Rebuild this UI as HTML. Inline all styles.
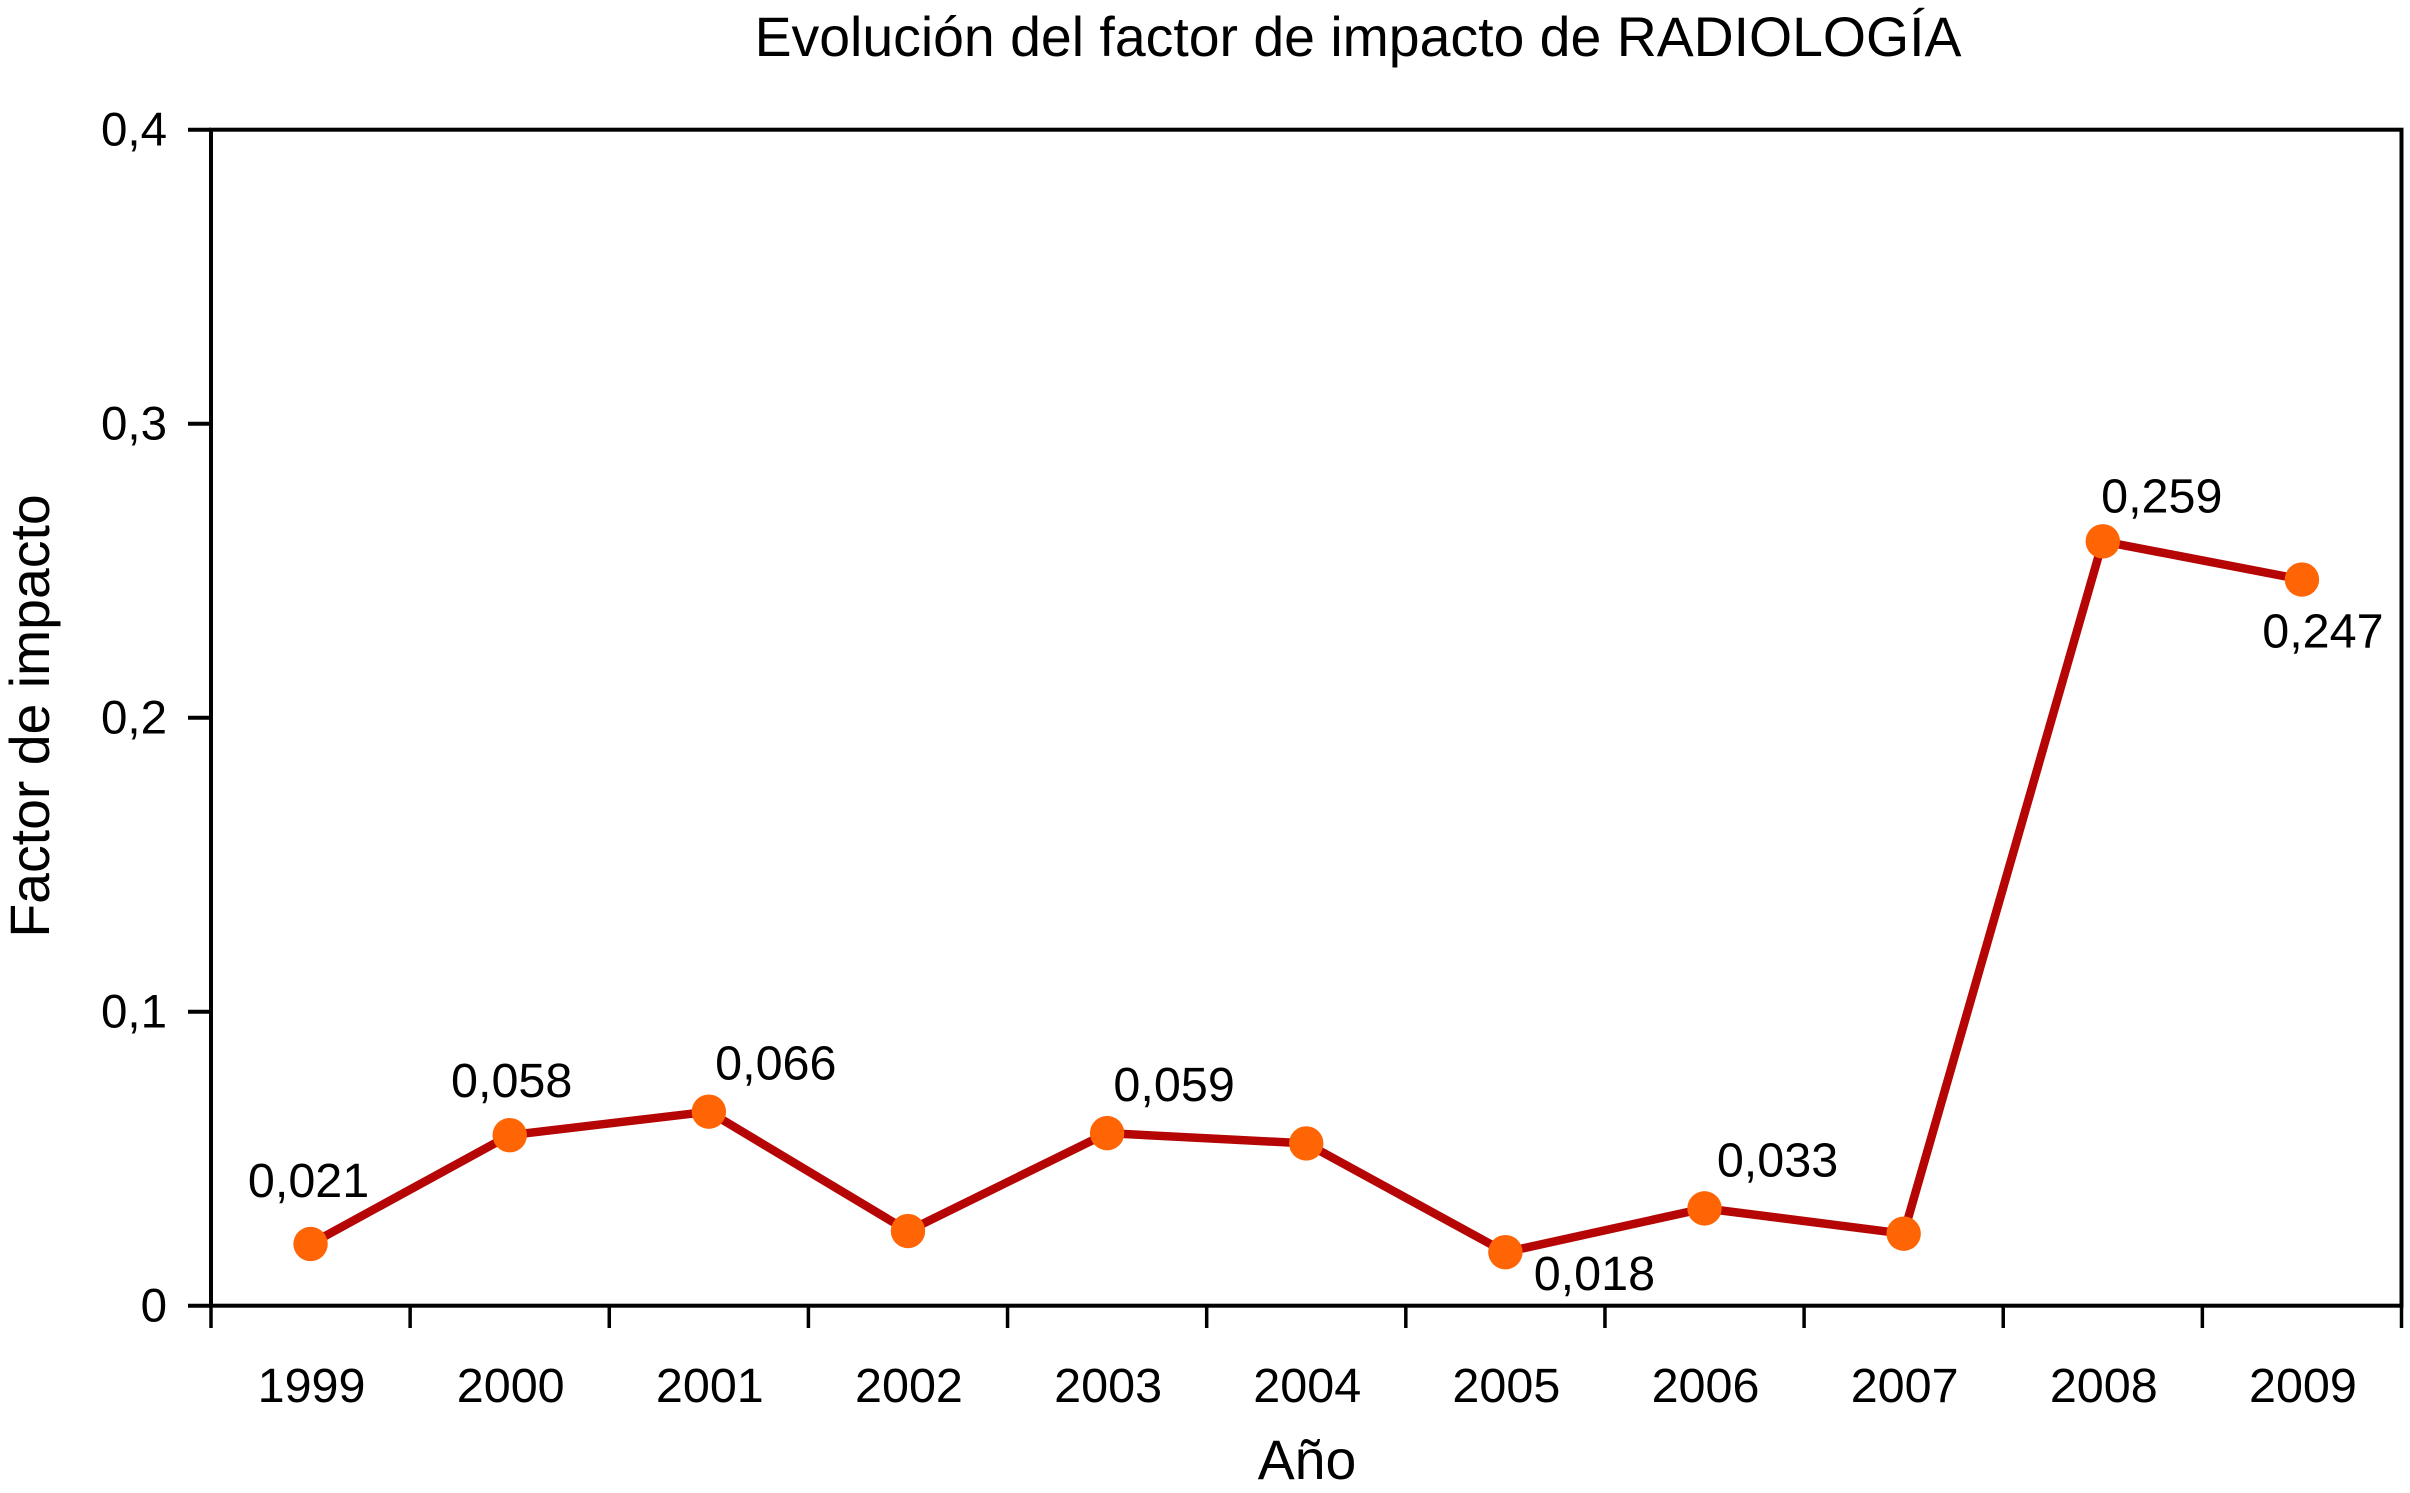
<!DOCTYPE html>
<html lang="es">
<head>
<meta charset="utf-8">
<title>Evolución del factor de impacto de RADIOLOGÍA</title>
<style>
html,body{margin:0;padding:0;background:#fff;width:2410px;height:1493px;overflow:hidden}
svg{display:block;font-family:"Liberation Sans",Arial,sans-serif;fill:#000}
</style>
</head>
<body>
<svg id="chart" xmlns="http://www.w3.org/2000/svg" width="2410" height="1493" viewBox="0 0 2410 1493">
<rect x="0" y="0" width="2410" height="1493" fill="#fff"/>
<text x="1358" y="56" font-size="55.4" text-anchor="middle">Evolución del factor de impacto de RADIOLOGÍA</text>
<text x="1307" y="1479" font-size="55.4" text-anchor="middle">Año</text>
<text transform="translate(49 716) rotate(-90)" font-size="55.4" text-anchor="middle">Factor de impacto</text>
<g id="axes"></g>
<g id="series"></g>
<g id="labels"></g>
</svg>
<script>
const categories = ['1999','2000','2001','2002','2003','2004','2005','2006','2007','2008','2009'];
const seriesValues = [0.021,0.058,0.066,0.0254,0.0587,0.0552,0.0182,0.0331,0.0245,0.26,0.247];
const printedValues = ['0,021','0,058','0,066',null,'0,059',null,'0,018','0,033',null,'0,259','0,247'];
const labelPlacements = ['above-left','above','above-right',null,'above-right',null,'below-right','above-far-right',null,'above-near-right','below'];
const yTickValues = [0,0.1,0.2,0.3,0.4];
const yTickLabels = ['0','0,1','0,2','0,3','0,4'];

const NS = 'http://www.w3.org/2000/svg';
const plot = {left:211, right:2401.5, top:129.7, bottom:1305.7};
const yMax = 0.4;
const band = (plot.right - plot.left) / categories.length;
function xBand(i){ return plot.left + i * band; }
function xScale(i){ return plot.left + (i + 0.5) * band; }
function yScale(v){ return plot.bottom - (v / yMax) * (plot.bottom - plot.top); }

function placementOffset(p){
  if (p === 'above-left') return {dx:-2, dy:-47};
  if (p === 'above') return {dx:2, dy:-38};
  if (p === 'above-right') return {dx:67, dy:-32};
  if (p === 'above-far-right') return {dx:73, dy:-32};
  if (p === 'above-near-right') return {dx:59, dy:-29};
  if (p === 'below-right') return {dx:89, dy:38};
  if (p === 'below') return {dx:21, dy:68};
  return {dx:0, dy:0};
}
function makeLine(x1,y1,x2,y2,w,color){
  const l = document.createElementNS(NS,'line');
  l.setAttribute('x1',x1); l.setAttribute('y1',y1);
  l.setAttribute('x2',x2); l.setAttribute('y2',y2);
  l.setAttribute('stroke',color); l.setAttribute('stroke-width',w);
  return l;
}
function makeText(x,y,size,anchor,content){
  const t = document.createElementNS(NS,'text');
  t.setAttribute('x',x); t.setAttribute('y',y);
  t.setAttribute('font-size',size); t.setAttribute('text-anchor',anchor);
  t.textContent = content;
  return t;
}

const axes = document.getElementById('axes');
const seriesGroup = document.getElementById('series');
const labelsGroup = document.getElementById('labels');

const frame = document.createElementNS(NS,'rect');


frame.setAttribute('x', plot.left);
frame.setAttribute('y', plot.top);
frame.setAttribute('width', plot.right - plot.left);
frame.setAttribute('height', plot.bottom - plot.top);
frame.setAttribute('fill', 'none');
frame.setAttribute('stroke', '#000');
frame.setAttribute('stroke-width', '4');
axes.appendChild(frame);

yTickValues.forEach(function(v,i){
  const tick = makeLine(188, yScale(v), plot.left, yScale(v), 4, '#000');
  
  
  axes.appendChild(tick);
  const label = makeText(167, yScale(v) + 16, 47.5, 'end', yTickLabels[i]);
  
  
  axes.appendChild(label);
});

for (let i = 0; i <= categories.length; i++){
  const tick = makeLine(xBand(i), plot.bottom, xBand(i), 1328, 3.5, '#000');
  
  
  axes.appendChild(tick);
}
categories.forEach(function(c,i){
  const label = makeText(xScale(i) + 1, 1402, 48.5, 'middle', c);
  
  
  axes.appendChild(label);
});

const line = document.createElementNS(NS,'polyline');


line.setAttribute('points', seriesValues.map(function(v,i){ return xScale(i) + ',' + yScale(v); }).join(' '));
line.setAttribute('fill', 'none');
line.setAttribute('stroke', '#b50505');
line.setAttribute('stroke-width', '8.5');
line.setAttribute('stroke-linejoin', 'round');
seriesGroup.appendChild(line);

seriesValues.forEach(function(v,i){
  const dot = document.createElementNS(NS,'circle');
  
  
  dot.setAttribute('cx', xScale(i));
  dot.setAttribute('cy', yScale(v));
  dot.setAttribute('r', 17.2);
  dot.setAttribute('fill', '#ff6405');
  seriesGroup.appendChild(dot);
  if (printedValues[i] !== null){
    const o = placementOffset(labelPlacements[i]);
    const label = makeText(xScale(i) + o.dx, yScale(v) + o.dy, 48.5, 'middle', printedValues[i]);
    
    
    labelsGroup.appendChild(label);
  }
});
</script>
</body>
</html>
